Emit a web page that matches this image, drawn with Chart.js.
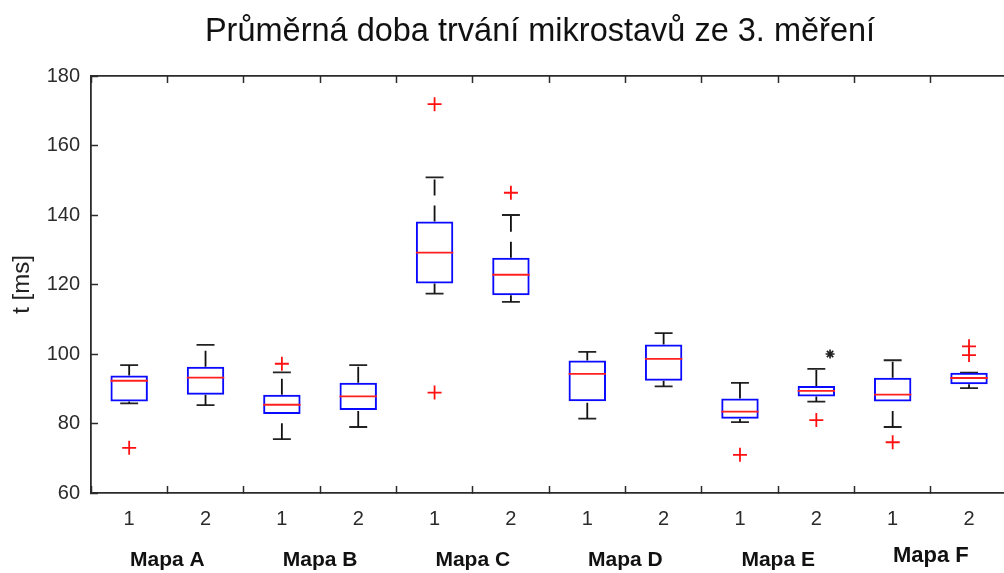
<!DOCTYPE html>
<html>
<head>
<meta charset="utf-8">
<script src="https://cdn.jsdelivr.net/npm/chart.js@4"></script>
<style>
  html, body { margin: 0; padding: 0; background: #fff; overflow: hidden; }
  #wrap { position: relative; width: 1016px; height: 573px; }
</style>
</head>
<body>
<div id="wrap"><canvas id="chart"></canvas></div>
<script>
// Groups (maps) and the two measurements inside each group
const groups = ['Mapa A', 'Mapa B', 'Mapa C', 'Mapa D', 'Mapa E', 'Mapa F'];
const measurements = ['1', '2'];

// Box statistics, one entry per box from left to right (A1, A2, B1, B2, ... F2), in ms
const whiskerLow  = [85.8, 85.3, 75.5, 79.0, 117.4, 115.0, 81.4, 90.7, 80.4, 86.3, 79.0, 90.2];
const quartile1   = [86.3, 88.3, 82.7, 83.9, 120.3, 116.9, 86.4, 92.3, 81.4, 87.8, 86.3, 91.3];
const medians     = [92.3, 93.2, 85.4, 87.8, 129.2, 122.8, 94.3, 98.6, 83.4, 89.4, 88.3, 93.1];
const quartile3   = [93.8, 96.3, 88.3, 91.7, 138.1, 127.7, 98.1, 102.7, 87.2, 90.8, 93.2, 94.6];
const whiskerHigh = [96.8, 102.6, 94.7, 96.8, 150.8, 140.0, 100.6, 106.0, 91.7, 95.7, 98.2, 94.6];

// Outliers per box
const outliers = [
  [73.0], [], [97.2], [], [171.9, 88.9], [146.4],
  [], [], [71.0], [81.0], [74.6], [102.2, 99.7]
];

// Significance marker (x in box-position units)
const marked = [{ x: 10.18, y: 100.0 }];

// Value axis
const yMin = 60, yMax = 180, yStep = 20;

// ---- derived structures ----
const BOX_WIDTH = 0.49;   // box width in position units
const CAP_WIDTH = 0.235;  // whisker cap width in position units
const positions = whiskerLow.map((_, i) => i + 1);
const tickLabels = positions.map((_, i) => measurements[i % measurements.length]);

const boxData = positions.map((x, i) => ({ x, y: [quartile1[i], quartile3[i]] }));

const whiskerData = [];
const capData = [];
const medianData = [];
positions.forEach((x, i) => {
  // whiskers run upward: cap -> box, box -> cap
  whiskerData.push({ x, y: whiskerLow[i] }, { x, y: quartile1[i] }, { x, y: null });
  whiskerData.push({ x, y: quartile3[i] }, { x, y: whiskerHigh[i] }, { x, y: null });
  capData.push({ x: x - CAP_WIDTH / 2, y: whiskerLow[i] }, { x: x + CAP_WIDTH / 2, y: whiskerLow[i] }, { x, y: null });
  capData.push({ x: x - CAP_WIDTH / 2, y: whiskerHigh[i] }, { x: x + CAP_WIDTH / 2, y: whiskerHigh[i] }, { x, y: null });
  medianData.push({ x: x - BOX_WIDTH / 2, y: medians[i] }, { x: x + BOX_WIDTH / 2, y: medians[i] }, { x, y: null });
});

const outlierData = [];
outliers.forEach((vals, i) => vals.forEach(v => outlierData.push({ x: positions[i], y: v })));

const FONT = "'Liberation Sans', Arial, Helvetica, sans-serif";
const AXIS_COLOR = '#2b2b2b';

const figureTitle = {
  id: 'figureTitle',
  afterDraw(chart, args, opts) {
    const ctx = chart.ctx;
    ctx.save();
    ctx.font = opts.font;
    ctx.fillStyle = opts.color;
    ctx.textAlign = 'center';
    ctx.textBaseline = 'alphabetic';
    ctx.fillText(opts.text, opts.x, opts.y);
    ctx.restore();
  }
};

const setPositionTicks = (scale) => {
  scale.ticks = positions.map(v => ({ value: v }));
};

new Chart(document.getElementById('chart'), {
  type: 'bar',
  data: {
    datasets: [
      {
        type: 'bar',
        data: boxData,
        xAxisID: 'x', yAxisID: 'y',
        backgroundColor: 'rgba(255,255,255,0)',
        borderColor: '#0a0aff',
        borderWidth: 2,
        borderSkipped: false,
        categoryPercentage: 1,
        barPercentage: BOX_WIDTH,
        order: 3
      },
      {
        type: 'line',
        data: whiskerData,
        xAxisID: 'x', yAxisID: 'y',
        borderColor: '#111',
        borderWidth: 1.8,
        borderDash: [16, 10],
        segment: { borderDash: () => [16, 10] },
        pointRadius: 0,
        spanGaps: false,
        fill: false,
        order: 4
      },
      {
        type: 'line',
        data: capData,
        xAxisID: 'x', yAxisID: 'y',
        borderColor: '#222',
        borderWidth: 1.8,
        pointRadius: 0,
        spanGaps: false,
        fill: false,
        order: 4
      },
      {
        type: 'line',
        data: medianData,
        xAxisID: 'x', yAxisID: 'y',
        borderColor: '#ff2020',
        borderWidth: 1.8,
        pointRadius: 0,
        spanGaps: false,
        fill: false,
        order: 1
      },
      {
        type: 'scatter',
        data: outlierData,
        xAxisID: 'x', yAxisID: 'y',
        pointStyle: 'cross',
        pointRadius: 7,
        borderColor: '#ff1010',
        borderWidth: 1.8,
        order: 0
      },
      {
        type: 'scatter',
        data: marked,
        xAxisID: 'x', yAxisID: 'y',
        pointStyle: 'star',
        pointRadius: 4.5,
        borderColor: '#222',
        borderWidth: 1.7,
        order: 0
      }
    ]
  },
  options: {
    responsive: true,
    maintainAspectRatio: false,
    animation: false,
    events: [],
    layout: { padding: { top: 76, right: 1, bottom: 0, left: 0 } },
    plugins: {
      legend: { display: false },
      tooltip: { enabled: false },
      figureTitle: {
        text: 'Průměrná doba trvání mikrostavů ze 3. měření',
        font: `32.5px ${FONT}`,
        color: '#111',
        x: 540,
        y: 41
      }
    },
    scales: {
      x: {
        type: 'linear',
        position: 'bottom',
        weight: 0,
        min: 0.5,
        max: 12.5,
        offset: false,
        afterBuildTicks: setPositionTicks,
        afterFit: (s) => { s.height = 40; },
        ticks: {
          autoSkip: false,
          maxRotation: 0,
          padding: 21,
          color: AXIS_COLOR,
          font: { family: FONT, size: 20 },
          callback: (v, i) => tickLabels[i]
        },
        grid: { drawOnChartArea: false, tickLength: -7, tickWidth: 1.5, tickColor: AXIS_COLOR },
        border: { display: true, color: AXIS_COLOR, width: 1.8 }
      },
      xTop: {
        type: 'linear',
        position: 'top',
        min: 0.5,
        max: 12.5,
        offset: false,
        afterBuildTicks: setPositionTicks,
        afterFit: (s) => { s.height = 0; },
        ticks: { display: false },
        grid: { drawOnChartArea: false, tickLength: -7, tickWidth: 1.5, tickColor: AXIS_COLOR },
        border: { display: true, color: AXIS_COLOR, width: 1.8 }
      },
      xGroup: {
        type: 'category',
        position: 'bottom',
        weight: 1,
        labels: groups,
        offset: true,
        afterFit: (s) => { s.height = 40; },
        ticks: {
          autoSkip: false,
          maxRotation: 0,
          padding: 15,
          color: '#111',
          // the last group label sits slightly higher and larger
          font: (ctx) => ctx.index === groups.length - 1
            ? { family: FONT, size: 22, weight: 'bold', lineHeight: 0.75 }
            : { family: FONT, size: 21, weight: 'bold', lineHeight: 1.2 }
        },
        grid: { display: false, drawTicks: false },
        border: { display: false }
      },
      y: {
        type: 'linear',
        position: 'left',
        min: yMin,
        max: yMax,
        afterFit: (s) => { s.width = 91; },
        ticks: {
          stepSize: yStep,
          padding: 18,
          color: AXIS_COLOR,
          font: { family: FONT, size: 20 }
        },
        title: {
          display: true,
          text: 't [ms]',
          color: '#222',
          font: { family: FONT, size: 24 },
          padding: { top: 8, bottom: 0 }
        },
        grid: { drawOnChartArea: false, tickLength: -7, tickWidth: 1.5, tickColor: AXIS_COLOR },
        border: { display: true, color: AXIS_COLOR, width: 1.8 }
      }
    }
  },
  plugins: [figureTitle]
});
</script>
</body>
</html>
